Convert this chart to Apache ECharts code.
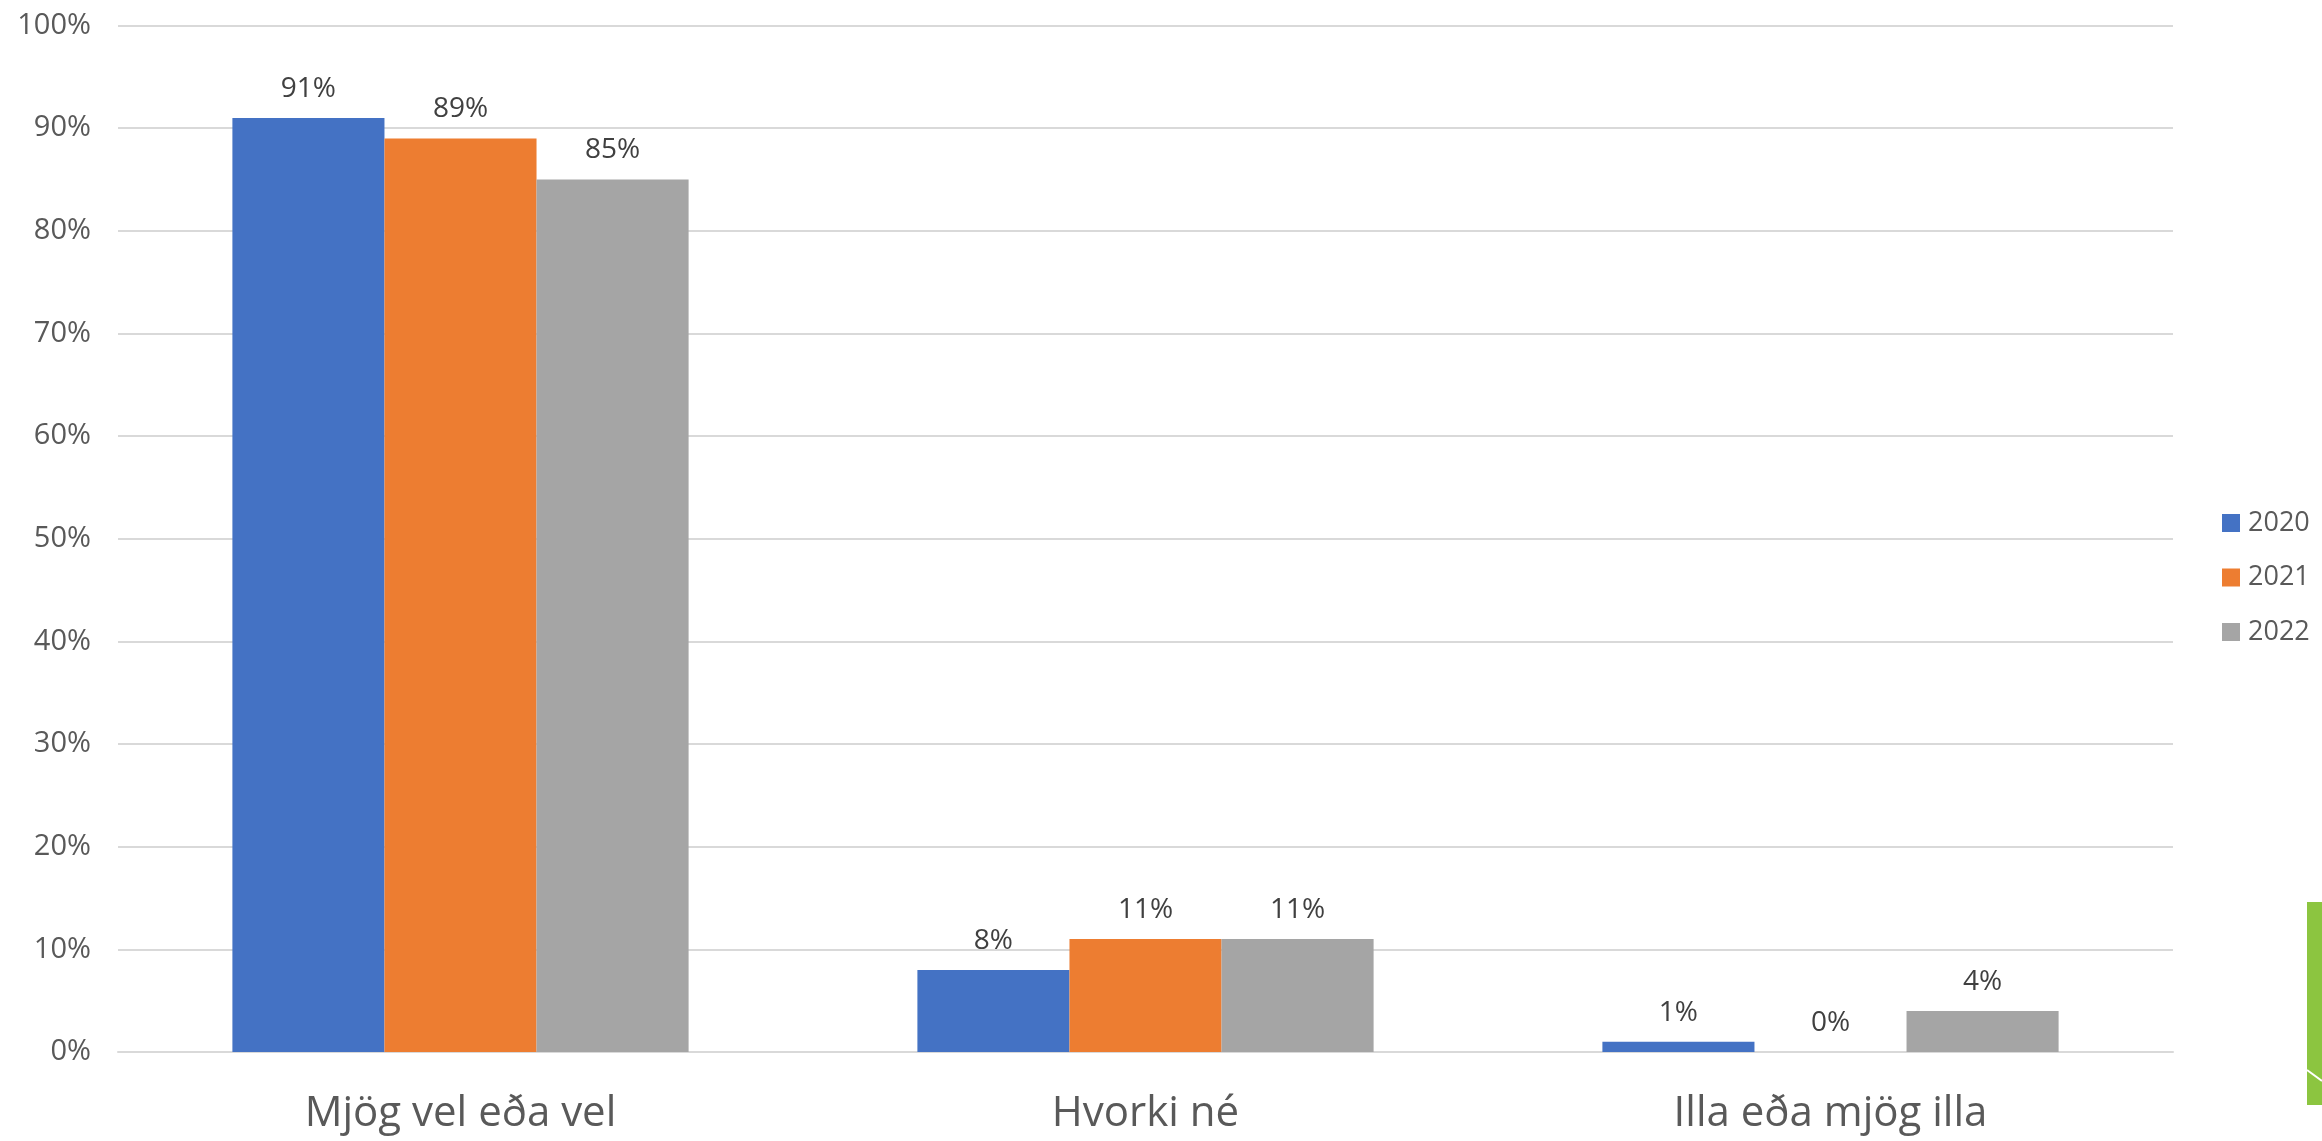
<!DOCTYPE html>
<html>
<head>
<meta charset="utf-8">
<script src="https://cdn.jsdelivr.net/npm/echarts@6/dist/echarts.min.js"></script>
<style>
html,body{margin:0;padding:0;background:#fff;}
#chart{width:2322px;height:1141px;}
</style>
</head>
<body>
<div id="chart"></div>
<script>
var categories = ['Mjög vel eða vel', 'Hvorki né', 'Illa eða mjög illa'];
var seriesNames = ['2020', '2021', '2022'];
var values2020 = [91, 8, 1];
var values2021 = [89, 11, 0];
var values2022 = [85, 11, 4];
var colors = ['#4472C4', '#ED7D31', '#A5A5A5'];
var yTicks = [0, 10, 20, 30, 40, 50, 60, 70, 80, 90, 100];

var FONT = '"Open Sans", "Noto Sans", sans-serif';
var allValues = [values2020, values2021, values2022];

var chart = echarts.init(document.getElementById('chart'), null, {renderer: 'canvas'});

var series = seriesNames.map(function (name, i) {
  return {
    name: name,
    type: 'bar',
    data: allValues[i],
    barGap: '0%',
    barCategoryGap: '33.4%',
    itemStyle: {color: colors[i]},
    label: {
      show: true,
      position: 'top',
      distance: 15,
      formatter: '{c}%',
      color: '#404040',
      fontFamily: FONT,
      fontSize: 28
    }
  };
});

chart.setOption({
  animation: false,
  backgroundColor: '#ffffff',
  color: colors,
  grid: {left: 118, right: 149, top: 25.5, bottom: 89, containLabel: false},
  legend: {
    orient: 'vertical',
    left: 2217,
    top: 503,
    icon: 'rect',
    itemWidth: 18,
    itemHeight: 18,
    itemGap: 24.5,
    data: seriesNames,
    textStyle: {
      color: '#595959',
      fontFamily: FONT,
      fontSize: 27,
      lineHeight: 30,
      padding: [0, 0, 0, 3]
    }
  },
  xAxis: {
    type: 'category',
    data: categories,
    axisLine: {show: true, lineStyle: {color: '#d9d9d9', width: 2}},
    axisTick: {show: false},
    axisLabel: {
      color: '#595959',
      fontFamily: FONT,
      fontSize: 42,
      margin: 41
    }
  },
  yAxis: {
    type: 'value',
    min: yTicks[0],
    max: yTicks[yTicks.length - 1],
    interval: yTicks[1] - yTicks[0],
    axisLine: {show: false},
    axisTick: {show: false},
    splitLine: {lineStyle: {color: '#d9d9d9', width: 2}},
    axisLabel: {
      color: '#595959',
      fontFamily: FONT,
      fontSize: 29,
      margin: 27,
      formatter: '{value}%'
    }
  },
  graphic: [
    {type: 'rect', left: 2307, top: 902, shape: {width: 15, height: 203}, style: {fill: '#8cc540'}, silent: true},
    {type: 'line', shape: {x1: 2307, y1: 1070, x2: 2322, y2: 1081}, style: {stroke: '#ffffff', lineWidth: 2}, silent: true}
  ],
  series: series
});
</script>
</body>
</html>
